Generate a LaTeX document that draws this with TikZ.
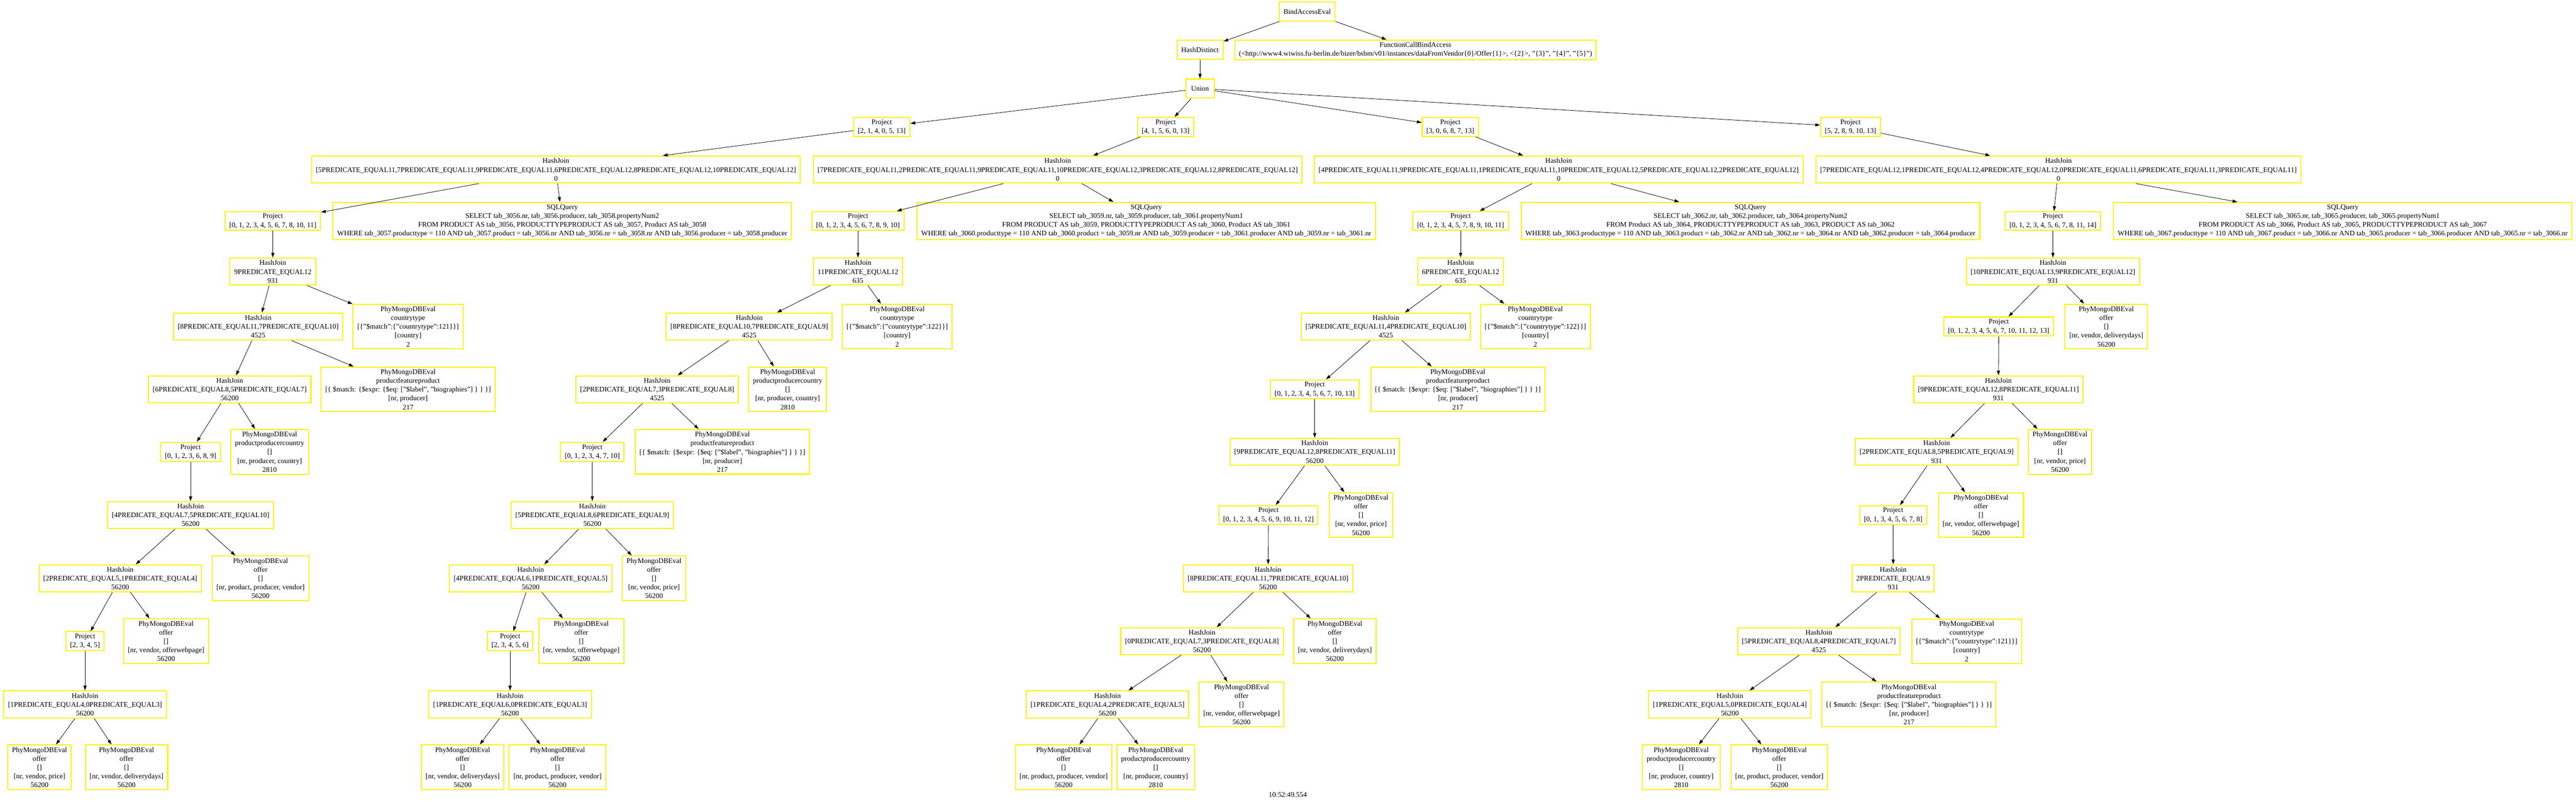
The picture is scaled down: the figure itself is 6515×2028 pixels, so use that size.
\documentclass[tikz,border=0pt]{standalone}
\usepackage{fontspec}
\setmainfont{Liberation Serif}
\usetikzlibrary{arrows.meta}

\newcommand{\projlbl}[1]{Project\\{}[#1]}
\newcommand{\joinlbl}[2]{HashJoin\\{}#1\\#2}
\newcommand{\mongolbl}[4]{PhyMongoDBEval\\#1\\{}#2\\{}#3\\#4}
\newcommand{\offerlbl}[1]{\mongolbl{offer}{[]}{[#1]}{56200}}
\newcommand{\ctypelbl}[1]{\mongolbl{countrytype}{[\{"\$match":\{"countrytype":#1\}\}]}{[country]}{2}}
\newcommand{\featlbl}{\mongolbl{productfeatureproduct}{[\{ \$match: \{\$expr: \{\$eq: ["\$label", "biographies"] \} \} \}]}{[nr, producer]}{217}}
\newcommand{\countrylbl}{\mongolbl{productproducercountry}{[]}{[nr, producer, country]}{2810}}

\begin{document}
\begin{tikzpicture}[x=0.75pt,y=-0.75pt,
    op/.style={draw=yellow,line width=2pt,align=center,inner xsep=8pt,inner ysep=4pt,
        minimum width=54pt,minimum height=36pt,font=\fontsize{13.6}{16.8}\selectfont},
    >={Triangle[length=9pt,width=6pt]},
    every path/.append style={line width=0.8pt}]
    \fill[white] (0,0) rectangle (6515,2028);
    \useasboundingbox (0,0) rectangle (6515,2028);

    % top of the plan
    \node[op] (bae) at (3306,29) {BindAccessEval};
    \node[op] (hd) at (3035,126) {HashDistinct};
    \node[op] (fcba) at (3580,126) {FunctionCallBindAccess\\(<http://www4.wiwiss.fu-berlin.de/bizer/bsbm/v01/instances/dataFromVendor\{0\}/Offer\{1\}>, <\{2\}>, "\{3\}", "\{4\}", "\{5\}")};
    \node[op] (un) at (3035,224) {Union};
    \node[op] (pa) at (2230,321) {\projlbl{2, 1, 4, 0, 5, 13}};
    \node[op] (pb) at (2948,321) {\projlbl{4, 1, 5, 6, 0, 13}};
    \node[op] (pc) at (3668,321) {\projlbl{3, 0, 6, 8, 7, 13}};
    \node[op] (pd) at (4680,321) {\projlbl{5, 2, 8, 9, 10, 13}};

    % joins with the sql sources
    \node[op] (hj1) at (1406,429) {\joinlbl{[5PREDICATE\_EQUAL11,7PREDICATE\_EQUAL11,9PREDICATE\_EQUAL11,6PREDICATE\_EQUAL12,8PREDICATE\_EQUAL12,10PREDICATE\_EQUAL12]}{0}};
    \node[op] (hj2) at (2675,429) {\joinlbl{[7PREDICATE\_EQUAL11,2PREDICATE\_EQUAL11,9PREDICATE\_EQUAL11,10PREDICATE\_EQUAL12,3PREDICATE\_EQUAL12,8PREDICATE\_EQUAL12]}{0}};
    \node[op] (hj3) at (3942,429) {\joinlbl{[4PREDICATE\_EQUAL11,9PREDICATE\_EQUAL11,1PREDICATE\_EQUAL11,10PREDICATE\_EQUAL12,5PREDICATE\_EQUAL12,2PREDICATE\_EQUAL12]}{0}};
    \node[op] (hj4) at (5206,429) {\joinlbl{[7PREDICATE\_EQUAL12,1PREDICATE\_EQUAL12,4PREDICATE\_EQUAL12,0PREDICATE\_EQUAL11,6PREDICATE\_EQUAL11,3PREDICATE\_EQUAL11]}{0}};

    \node[op] (sql1) at (1422,559) {SQLQuery\\SELECT tab\_3056.nr, tab\_3056.producer, tab\_3058.propertyNum2\\FROM PRODUCT AS tab\_3056, PRODUCTTYPEPRODUCT AS tab\_3057, Product AS tab\_3058\\WHERE tab\_3057.producttype = 110 AND tab\_3057.product = tab\_3056.nr AND tab\_3056.nr = tab\_3058.nr AND tab\_3056.producer = tab\_3058.producer};
    \node[op] (sql2) at (2899,559) {SQLQuery\\SELECT tab\_3059.nr, tab\_3059.producer, tab\_3061.propertyNum1\\FROM PRODUCT AS tab\_3059, PRODUCTTYPEPRODUCT AS tab\_3060, Product AS tab\_3061\\WHERE tab\_3060.producttype = 110 AND tab\_3060.product = tab\_3059.nr AND tab\_3059.producer = tab\_3061.producer AND tab\_3059.nr = tab\_3061.nr};
    \node[op] (sql3) at (4427,559) {SQLQuery\\SELECT tab\_3062.nr, tab\_3062.producer, tab\_3064.propertyNum2\\FROM Product AS tab\_3064, PRODUCTTYPEPRODUCT AS tab\_3063, PRODUCT AS tab\_3062\\WHERE tab\_3063.producttype = 110 AND tab\_3063.product = tab\_3062.nr AND tab\_3062.nr = tab\_3064.nr AND tab\_3062.producer = tab\_3064.producer};
    \node[op] (sql4) at (5925,559) {SQLQuery\\SELECT tab\_3065.nr, tab\_3065.producer, tab\_3065.propertyNum1\\FROM PRODUCT AS tab\_3066, Product AS tab\_3065, PRODUCTTYPEPRODUCT AS tab\_3067\\WHERE tab\_3067.producttype = 110 AND tab\_3067.product = tab\_3066.nr AND tab\_3065.producer = tab\_3066.producer AND tab\_3065.nr = tab\_3066.nr};

    % first branch
    \node[op] (pa1) at (690,559) {\projlbl{0, 1, 2, 3, 4, 5, 6, 7, 8, 10, 11}};
    \node[op] (hja6) at (690,687) {\joinlbl{9PREDICATE\_EQUAL12}{931}};
    \node[op] (hja7) at (653,826) {\joinlbl{[8PREDICATE\_EQUAL11,7PREDICATE\_EQUAL10]}{4525}};
    \node[op] (cta) at (1032,826) {\ctypelbl{121}};
    \node[op] (hja8) at (581,985) {\joinlbl{[6PREDICATE\_EQUAL8,5PREDICATE\_EQUAL7]}{56200}};
    \node[op] (pfa) at (1032,985) {\featlbl};
    \node[op] (pa9) at (482,1143) {\projlbl{0, 1, 2, 3, 6, 8, 9}};
    \node[op] (ppa) at (682,1143) {\countrylbl};
    \node[op] (hja10) at (482,1303) {\joinlbl{[4PREDICATE\_EQUAL7,5PREDICATE\_EQUAL10]}{56200}};
    \node[op] (hja11) at (304,1463) {\joinlbl{[2PREDICATE\_EQUAL5,1PREDICATE\_EQUAL4]}{56200}};
    \node[op] (npa) at (659,1463) {\offerlbl{nr, product, producer, vendor}};
    \node[op] (pa12) at (215,1622) {\projlbl{2, 3, 4, 5}};
    \node[op] (owa) at (420,1622) {\offerlbl{nr, vendor, offerwebpage}};
    \node[op] (hja13) at (215,1782) {\joinlbl{[1PREDICATE\_EQUAL4,0PREDICATE\_EQUAL3]}{56200}};
    \node[op] (pra) at (100,1941) {\offerlbl{nr, vendor, price}};
    \node[op] (dda) at (320,1941) {\offerlbl{nr, vendor, deliverydays}};

    % second branch
    \node[op] (pb1) at (2170,559) {\projlbl{0, 1, 2, 3, 4, 5, 6, 7, 8, 9, 10}};
    \node[op] (hjb6) at (2170,687) {\joinlbl{11PREDICATE\_EQUAL12}{635}};
    \node[op] (hjb7) at (1895,826) {\joinlbl{[8PREDICATE\_EQUAL10,7PREDICATE\_EQUAL9]}{4525}};
    \node[op] (ctb) at (2269,826) {\ctypelbl{122}};
    \node[op] (hjb8) at (1662,985) {\joinlbl{[2PREDICATE\_EQUAL7,3PREDICATE\_EQUAL8]}{4525}};
    \node[op] (ppb) at (1992,985) {\countrylbl};
    \node[op] (pb9) at (1498,1143) {\projlbl{0, 1, 2, 3, 4, 7, 10}};
    \node[op] (pfb) at (1827,1143) {\featlbl};
    \node[op] (hjb10) at (1498,1303) {\joinlbl{[5PREDICATE\_EQUAL8,6PREDICATE\_EQUAL9]}{56200}};
    \node[op] (hjb11) at (1342,1463) {\joinlbl{[4PREDICATE\_EQUAL6,1PREDICATE\_EQUAL5]}{56200}};
    \node[op] (prb) at (1654,1463) {\offerlbl{nr, vendor, price}};
    \node[op] (pb12) at (1290,1622) {\projlbl{2, 3, 4, 5, 6}};
    \node[op] (owb) at (1470,1622) {\offerlbl{nr, vendor, offerwebpage}};
    \node[op] (hjb13) at (1290,1782) {\joinlbl{[1PREDICATE\_EQUAL6,0PREDICATE\_EQUAL3]}{56200}};
    \node[op] (ddb) at (1170,1941) {\offerlbl{nr, vendor, deliverydays}};
    \node[op] (npb) at (1410,1941) {\offerlbl{nr, product, producer, vendor}};

    % third branch
    \node[op] (pc1) at (3694,559) {\projlbl{0, 1, 2, 3, 4, 5, 7, 8, 9, 10, 11}};
    \node[op] (hjc6) at (3694,687) {\joinlbl{6PREDICATE\_EQUAL12}{635}};
    \node[op] (hjc7) at (3505,826) {\joinlbl{[5PREDICATE\_EQUAL11,4PREDICATE\_EQUAL10]}{4525}};
    \node[op] (ctc) at (3883,826) {\ctypelbl{122}};
    \node[op] (pc8) at (3325,985) {\projlbl{0, 1, 2, 3, 4, 5, 6, 7, 10, 13}};
    \node[op] (pfc) at (3687,985) {\featlbl};
    \node[op] (hjc9) at (3325,1143) {\joinlbl{[9PREDICATE\_EQUAL12,8PREDICATE\_EQUAL11]}{56200}};
    \node[op] (pc10) at (3208,1303) {\projlbl{0, 1, 2, 3, 4, 5, 6, 9, 10, 11, 12}};
    \node[op] (prc) at (3442,1303) {\offerlbl{nr, vendor, price}};
    \node[op] (hjc11) at (3207,1463) {\joinlbl{[8PREDICATE\_EQUAL11,7PREDICATE\_EQUAL10]}{56200}};
    \node[op] (hjc12) at (3040,1622) {\joinlbl{[0PREDICATE\_EQUAL7,3PREDICATE\_EQUAL8]}{56200}};
    \node[op] (ddc) at (3376,1622) {\offerlbl{nr, vendor, deliverydays}};
    \node[op] (hjc13) at (2801,1782) {\joinlbl{[1PREDICATE\_EQUAL4,2PREDICATE\_EQUAL5]}{56200}};
    \node[op] (owc) at (3140,1782) {\offerlbl{nr, vendor, offerwebpage}};
    \node[op] (npc) at (2690,1941) {\offerlbl{nr, product, producer, vendor}};
    \node[op] (ppc) at (2923,1941) {\countrylbl};

    % fourth branch
    \node[op] (pd1) at (5192,559) {\projlbl{0, 1, 2, 3, 4, 5, 6, 7, 8, 11, 14}};
    \node[op] (hjd6) at (5192,687) {\joinlbl{[10PREDICATE\_EQUAL13,9PREDICATE\_EQUAL12]}{931}};
    \node[op] (pd7) at (5055,826) {\projlbl{0, 1, 2, 3, 4, 5, 6, 7, 10, 11, 12, 13}};
    \node[op] (ddd) at (5327,826) {\offerlbl{nr, vendor, deliverydays}};
    \node[op] (hjd8) at (5054,985) {\joinlbl{[9PREDICATE\_EQUAL12,8PREDICATE\_EQUAL11]}{931}};
    \node[op] (hjd9) at (4898,1143) {\joinlbl{[2PREDICATE\_EQUAL8,5PREDICATE\_EQUAL9]}{931}};
    \node[op] (prd) at (5210,1143) {\offerlbl{nr, vendor, price}};
    \node[op] (pd10) at (4788,1303) {\projlbl{0, 1, 3, 4, 5, 6, 7, 8}};
    \node[op] (owd) at (5010,1303) {\offerlbl{nr, vendor, offerwebpage}};
    \node[op] (hjd11) at (4788,1463) {\joinlbl{2PREDICATE\_EQUAL9}{931}};
    \node[op] (hjd12) at (4600,1622) {\joinlbl{[5PREDICATE\_EQUAL8,4PREDICATE\_EQUAL7]}{4525}};
    \node[op] (ctd) at (4974,1622) {\ctypelbl{121}};
    \node[op] (hjd13) at (4375,1782) {\joinlbl{[1PREDICATE\_EQUAL5,0PREDICATE\_EQUAL4]}{56200}};
    \node[op] (pfd) at (4828,1782) {\featlbl};
    \node[op] (ppd) at (4252,1941) {\countrylbl};
    \node[op] (npd) at (4500,1941) {\offerlbl{nr, product, producer, vendor}};

    \node[font=\fontsize{13.6}{16.8}\selectfont] (stamp) at (3257,2010) {10:52:49.554};

    % edges of the top
    \draw[->] (bae) -- (hd); \draw[->] (bae) -- (fcba);
    \draw[->] (hd) -- (un);
    \draw[->] (un) -- (pa); \draw[->] (un) -- (pb);
    \draw[->] (un) -- (pc); \draw[->] (un) -- (pd);
    \draw[->] (pa) -- (hj1); \draw[->] (pb) -- (hj2);
    \draw[->] (pc) -- (hj3); \draw[->] (pd) -- (hj4);
    \draw[->] (hj1) -- (pa1); \draw[->] (hj1) -- (sql1);
    \draw[->] (hj2) -- (pb1); \draw[->] (hj2) -- (sql2);
    \draw[->] (hj3) -- (pc1); \draw[->] (hj3) -- (sql3);
    \draw[->] (hj4) -- (pd1); \draw[->] (hj4) -- (sql4);

    % edges of the first branch
    \draw[->] (pa1) -- (hja6);
    \draw[->] (hja6) -- (hja7); \draw[->] (hja6) -- (cta);
    \draw[->] (hja7) -- (hja8); \draw[->] (hja7) -- (pfa);
    \draw[->] (hja8) -- (pa9); \draw[->] (hja8) -- (ppa);
    \draw[->] (pa9) -- (hja10);
    \draw[->] (hja10) -- (hja11); \draw[->] (hja10) -- (npa);
    \draw[->] (hja11) -- (pa12); \draw[->] (hja11) -- (owa);
    \draw[->] (pa12) -- (hja13);
    \draw[->] (hja13) -- (pra); \draw[->] (hja13) -- (dda);

    % edges of the second branch
    \draw[->] (pb1) -- (hjb6);
    \draw[->] (hjb6) -- (hjb7); \draw[->] (hjb6) -- (ctb);
    \draw[->] (hjb7) -- (hjb8); \draw[->] (hjb7) -- (ppb);
    \draw[->] (hjb8) -- (pb9); \draw[->] (hjb8) -- (pfb);
    \draw[->] (pb9) -- (hjb10);
    \draw[->] (hjb10) -- (hjb11); \draw[->] (hjb10) -- (prb);
    \draw[->] (hjb11) -- (pb12); \draw[->] (hjb11) -- (owb);
    \draw[->] (pb12) -- (hjb13);
    \draw[->] (hjb13) -- (ddb); \draw[->] (hjb13) -- (npb);

    % edges of the third branch
    \draw[->] (pc1) -- (hjc6);
    \draw[->] (hjc6) -- (hjc7); \draw[->] (hjc6) -- (ctc);
    \draw[->] (hjc7) -- (pc8); \draw[->] (hjc7) -- (pfc);
    \draw[->] (pc8) -- (hjc9);
    \draw[->] (hjc9) -- (pc10); \draw[->] (hjc9) -- (prc);
    \draw[->] (pc10) -- (hjc11);
    \draw[->] (hjc11) -- (hjc12); \draw[->] (hjc11) -- (ddc);
    \draw[->] (hjc12) -- (hjc13); \draw[->] (hjc12) -- (owc);
    \draw[->] (hjc13) -- (npc); \draw[->] (hjc13) -- (ppc);

    % edges of the fourth branch
    \draw[->] (pd1) -- (hjd6);
    \draw[->] (hjd6) -- (pd7); \draw[->] (hjd6) -- (ddd);
    \draw[->] (pd7) -- (hjd8);
    \draw[->] (hjd8) -- (hjd9); \draw[->] (hjd8) -- (prd);
    \draw[->] (hjd9) -- (pd10); \draw[->] (hjd9) -- (owd);
    \draw[->] (pd10) -- (hjd11);
    \draw[->] (hjd11) -- (hjd12); \draw[->] (hjd11) -- (ctd);
    \draw[->] (hjd12) -- (hjd13); \draw[->] (hjd12) -- (pfd);
    \draw[->] (hjd13) -- (ppd); \draw[->] (hjd13) -- (npd);
\end{tikzpicture}
\end{document}
